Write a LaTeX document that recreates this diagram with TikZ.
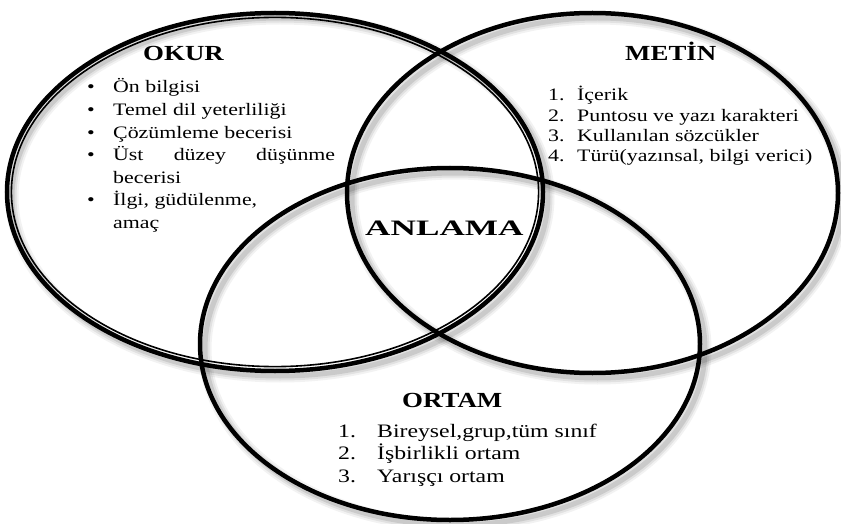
\documentclass[tikz,border=0pt]{standalone}
\usepackage{fontspec}
\usepackage{array}
\setmainfont{Liberation Serif}[FakeStretch=1.25]
\newfontfamily\anlamafont{Liberation Serif}[FakeStretch=1.6]

\begin{document}
\begin{tikzpicture}[x=1pt, y=-1pt,
  ring/.style={line width=4.5pt, black},
  heading/.style={anchor=base west, inner sep=0pt, font=\fontsize{21.5}{26}\selectfont\bfseries},
  itemlist/.style={anchor=base west, inner sep=0pt}]
\useasboundingbox (0,0) rectangle (841,524);

\coordinate (okurc) at (275,192);
\coordinate (metinc) at (592.5,193);
\coordinate (ortamc) at (450,344);

% soft shadows
\foreach \c/\rx/\ry in {okurc/268/179, metinc/245.5/180, ortamc/250/176}
  \foreach \w/\op in {13/0.05, 9/0.07, 5/0.1}
    \draw[line width=\w pt, black, opacity=\op] ([shift={(5,5)}]\c) ellipse [x radius=\rx, y radius=\ry];

\draw[ring] (metinc) ellipse [x radius=245.5, y radius=180];
\draw[ring] (ortamc) ellipse [x radius=250, y radius=176];
\draw[ring] (okurc) ellipse [x radius=268, y radius=179];
\draw[line width=1.6pt] (okurc) ellipse [x radius=263.6, y radius=174.6];

\node[heading] (okur) at (143,61) {OKUR};
\node[heading] (metin) at (625,61) {METİN};
\node[heading] (ortam) at (402,407) {ORTAM};
\node[anchor=base west, inner sep=0pt, font=\anlamafont\fontsize{22}{26}\selectfont\bfseries] (anlama) at (365,235) {ANLAMA};

\node[itemlist, font=\fontsize{17.5}{22.6}\selectfont] (okurlist) at (87,93)
  {\begin{tabular}[t]{@{}p{26pt}@{}p{222pt}@{}}
   \textbullet & Ön bilgisi\\
   \textbullet & Temel dil yeterliliği\\
   \textbullet & Çözümleme becerisi\\
   \textbullet & Üst\hfill düzey\hfill düşünme\newline becerisi\\
   \textbullet & İlgi, güdülenme,\newline amaç
   \end{tabular}};

\node[itemlist, font=\fontsize{17.5}{20.3}\selectfont] (metinlist) at (548,101)
  {\begin{tabular}[t]{@{}p{29pt}@{}l@{}}
   1. & İçerik\\
   2. & Puntosu ve yazı karakteri\\
   3. & Kullanılan sözcükler\\
   4. & Türü(yazınsal, bilgi verici)
   \end{tabular}};

\node[itemlist, font=\fontsize{19}{22.5}\selectfont] (ortamlist) at (338,437)
  {\begin{tabular}[t]{@{}p{39pt}@{}l@{}}
   1. & Bireysel,grup,tüm sınıf\\
   2. & İşbirlikli ortam\\
   3. & Yarışçı ortam
   \end{tabular}};
\end{tikzpicture}
\end{document}
